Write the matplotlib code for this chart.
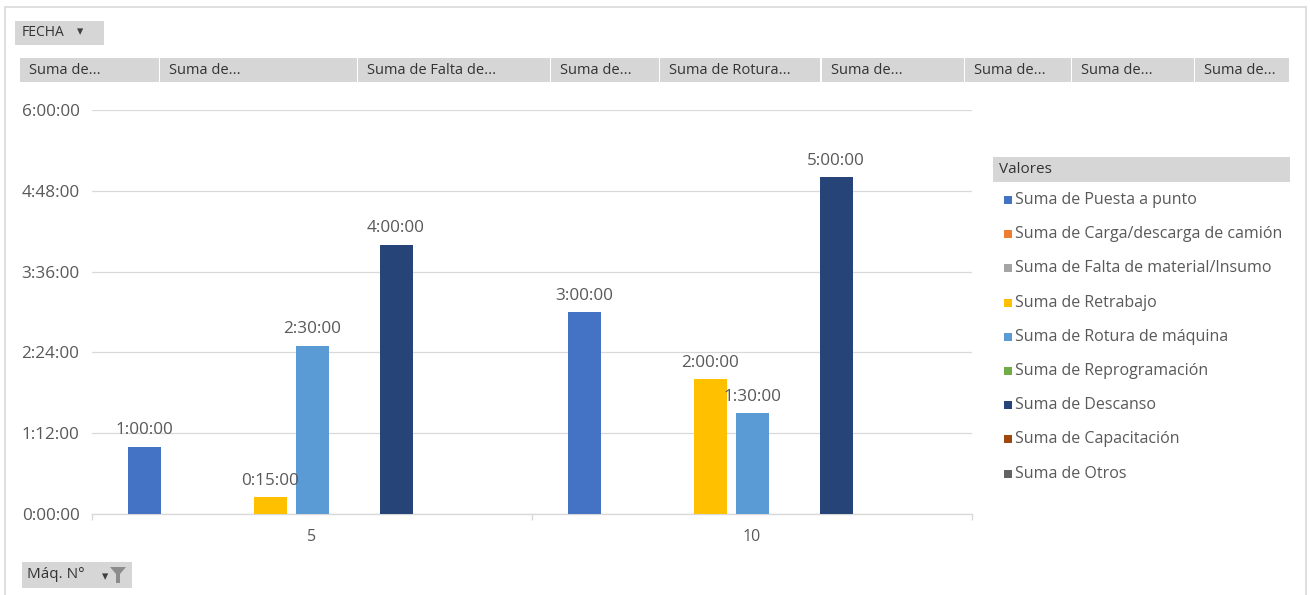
import matplotlib

matplotlib.use("Agg")
import matplotlib.pyplot as plt
from matplotlib.patches import Rectangle, Polygon
from matplotlib.ticker import FuncFormatter, FixedLocator

plt.rcParams["font.family"] = ["Open Sans", "DejaVu Sans"]

# pivot data: hours per machine
machines = ["5", "10"]
series_names = [
    "Suma de Puesta a punto",
    "Suma de Carga/descarga de camión",
    "Suma de Falta de material/Insumo",
    "Suma de Retrabajo",
    "Suma de Rotura de máquina",
    "Suma de Reprogramación",
    "Suma de Descanso",
    "Suma de Capacitación",
    "Suma de Otros",
]
puesta = [1.0, 3.0]
carga = [0.0, 0.0]
falta = [0.0, 0.0]
retrabajo = [0.25, 2.0]
rotura = [2.5, 1.5]
reprog = [0.0, 0.0]
descanso = [4.0, 5.0]
capacitacion = [0.0, 0.0]
otros = [0.0, 0.0]
series_values = [puesta, carga, falta, retrabajo, rotura, reprog, descanso, capacitacion, otros]
colors = ["#4472C4", "#ED7D31", "#A5A5A5", "#FFC000", "#5B9BD5",
          "#70AD47", "#264478", "#9E480E", "#636363"]

header_labels = ["Suma de...", "Suma de...", "Suma de Falta de...", "Suma de...",
                 "Suma de Rotura...", "Suma de...", "Suma de...", "Suma de...", "Suma de..."]
header_edges = [20, 160, 358, 551, 660, 822, 965, 1072, 1195, 1290]

W, H = 1310, 595
TXT = "#595959"
BTN = "#D6D6D6"


def fx(x):
    return x / W


def fy(y):
    return 1 - y / H


def hms(v, pos=None):
    total = int(round(v * 3600))
    h, rem = divmod(total, 3600)
    m, s = divmod(rem, 60)
    return f"{h}:{m:02d}:{s:02d}"


fig = plt.figure(figsize=(W / 100, H / 100), dpi=100)
fig.patch.set_facecolor("white")

# outer border
fig.add_artist(Rectangle((fx(5), fy(600)), fx(1306) - fx(5), fy(7) - fy(600),
                         transform=fig.transFigure, fill=False, ec="#D9D9D9", lw=1.2))

ax = fig.add_axes([fx(92), fy(514), fx(972) - fx(92), fy(110) - fy(514)])
ax.set_xlim(-0.5, 1.5)
ax.set_ylim(0, 6)

slot = 42 / 440
bar_w = 33 / 440
n = len(series_values)
for i, (vals, col) in enumerate(zip(series_values, colors)):
    xs = [k + (i - (n - 1) / 2) * slot for k in range(len(machines))]
    ax.bar(xs, vals, width=bar_w, color=col, zorder=3)
    for x, v in zip(xs, vals):
        if v > 0:
            ax.annotate(hms(v), (x, v), xytext=(0, 6), textcoords="offset points",
                        ha="center", va="bottom", fontsize=12.3, color=TXT, zorder=4)

ax.yaxis.set_major_locator(FixedLocator([0, 1.2, 2.4, 3.6, 4.8, 6.0]))
ax.yaxis.set_major_formatter(FuncFormatter(hms))
ax.grid(axis="y", color="#D9D9D9", lw=0.9, zorder=0)
ax.set_xticks(range(len(machines)))
ax.set_xticklabels(machines)
ax.set_xticks([-0.5, 0.5, 1.5], minor=True)
ax.tick_params(axis="x", which="major", length=0, pad=11, labelsize=11.5, labelcolor=TXT)
ax.tick_params(axis="x", which="minor", length=4, color="#D9D9D9", width=1)
ax.tick_params(axis="y", length=0, pad=9, labelsize=12.3, labelcolor=TXT)
for s in ["top", "right", "left"]:
    ax.spines[s].set_visible(False)
ax.spines["bottom"].set_color("#D9D9D9")
ax.spines["bottom"].set_linewidth(1)


def button(x0, y0, x1, y1, text, size=10.5, tx=None):
    fig.add_artist(Rectangle((fx(x0), fy(y1)), fx(x1) - fx(x0), fy(y0) - fy(y1),
                             transform=fig.transFigure, fc=BTN, ec="none"))
    fig.text(fx(tx if tx is not None else x0 + 7), fy((y0 + y1) / 2), text,
             ha="left", va="center", fontsize=size, color="#333333")


# FECHA filter button
button(15, 21, 104, 45, "FECHA", size=10)
fig.text(fx(80), fy(32), "▾", ha="center", va="center", fontsize=9,
         color="#404040", family="DejaVu Sans")

# value field buttons
for k, lab in enumerate(header_labels):
    x0, x1 = header_edges[k], header_edges[k + 1]
    button(x0, 58, x1 - 1.5, 82, lab, size=10.5, tx=x0 + 9)

# legend
button(993, 157, 1290, 182, "Valores", size=11, tx=999)
for i, (name, col) in enumerate(zip(series_names, colors)):
    yc = 200 + i * 34.2
    fig.add_artist(Rectangle((fx(1004), fy(yc + 4)), fx(8), fy(0) - fy(8),
                             transform=fig.transFigure, fc=col, ec="none"))
    fig.text(fx(1015), fy(yc), name, ha="left", va="center", fontsize=11.5, color=TXT)

# row field button
button(22, 562, 132, 588, "Máq. N°", size=11, tx=27)
fig.text(fx(105), fy(577), "▾", ha="center", va="center", fontsize=9,
         color="#404040", family="DejaVu Sans")
fig.add_artist(Polygon([(fx(110), fy(567)), (fx(126), fy(567)), (fx(120), fy(574)),
                        (fx(120), fy(583)), (fx(116), fy(583)), (fx(116), fy(574))],
                       closed=True, transform=fig.transFigure, fc="#8C8C8C", ec="none"))

fig.savefig("out.png", dpi=100)
